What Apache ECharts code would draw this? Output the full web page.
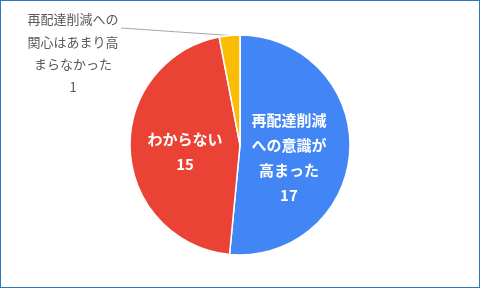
<!DOCTYPE html>
<html><head><meta charset="utf-8">
<script src="https://cdn.jsdelivr.net/npm/echarts@6/dist/echarts.min.js"></script>
<style>
html,body{margin:0;padding:0;background:#fff;}
#c{width:480px;height:288px;box-sizing:border-box;border:1px solid #2F75C1;}
</style></head>
<body><div id="c"></div>
<script>
const categories = ['再配達削減への意識が高まった', 'わからない', '再配達削減への関心はあまり高まらなかった'];
const labelTexts = ['再配達削減\nへの意識が\n高まった', 'わからない', '再配達削減への\n関心はあまり高\nまらなかった'];
const values = [17, 15, 1];
const colors = ['#4285F4', '#EA4335', '#FBBC04'];

const chart = echarts.init(document.getElementById('c'), null, {renderer: 'canvas'});
const data = categories.map((n, i) => {
  const d = {name: n, value: values[i], itemStyle: {color: colors[i]}};
  if (i < 2) {
    d.label = {position: 'inside', color: '#fff', fontWeight: 'bold', fontSize: 15, lineHeight: 25};
    d.labelLine = {show: false};
  } else {
    d.label = {position: 'outside', color: '#595959', fontSize: 13, lineHeight: 22.5, align: 'center'};
    d.labelLine = {show: true, length: 10, length2: 10, lineStyle: {color: '#A6A6A6', width: 1}};
  }
  return d;
});
chart.setOption({
  animation: false,
  series: [{
    type: 'pie',
    center: [239, 144],
    radius: 110,
    startAngle: 90,
    clockwise: true,
    avoidLabelOverlap: false,
    itemStyle: {borderColor: '#fff', borderWidth: 1.5},
    label: {
      fontFamily: '"Noto Sans CJK JP", sans-serif',
      formatter: p => labelTexts[p.dataIndex] + '\n' + p.value
    },
    labelLayout: function (params) {
      if (params.dataIndex === 2) {
        const pts = params.labelLinePoints;
        const start = pts ? pts[0] : [229, 35];
        return {
          x: 72, y: 52, align: 'center', verticalAlign: 'middle',
          labelLinePoints: [start, [(start[0] + 120) / 2, (start[1] + 27) / 2], [120, 27]]
        };
      }
      if (params.dataIndex === 0) {
        return {dx: -9, dy: 10};
      }
      return {dx: 3, dy: 4};
    },
    data: data
  }]
});
</script></body></html>
